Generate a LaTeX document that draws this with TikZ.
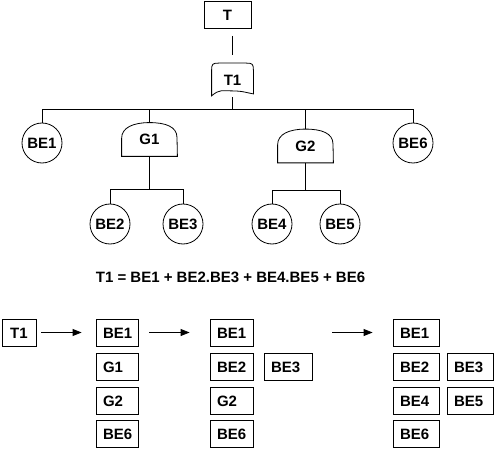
\documentclass[tikz,border=0pt]{standalone}
\usepackage{fontspec}
\setmainfont{Liberation Sans}
\usetikzlibrary{arrows.meta,calc}
\tikzset{
  lbl/.style={font=\bfseries\fontsize{15}{17}\selectfont},
  be/.style={lbl, draw, circle, minimum size=40pt, inner sep=0pt},
  gate/.style={lbl, minimum width=55pt, minimum height=33pt, inner sep=0pt},
  cbox/.style={lbl, draw, minimum height=27pt, inner xsep=7pt, inner ysep=0pt,
               text width=#1, align=left, text height=11pt, text depth=0pt},
  tbox/.style={lbl, draw, minimum height=27pt, inner sep=0pt, minimum width=#1,
               text height=11pt, text depth=0pt},
  arr/.style={-{Triangle[length=9pt,width=7pt]}},
  every path/.style={line width=0.8pt}
}
\begin{document}
\begin{tikzpicture}[x=1pt,y=-1pt]
\useasboundingbox (0,0) rectangle (495,449);
% tree
\node[tbox=47pt] (T) at (227.5,15) {T};
\node[gate, minimum width=41pt, minimum height=33pt] (T1) at (232.5,80) {T1};
\draw ([yshift=-7pt]T1.north west) -- ($(T1.south west)+(0,-1)$)
  .. controls +(8,-7) and +(-10,0) .. ($(T1.south)+(0,-6)$)
  .. controls +(10,0) and +(-6,-1) .. ($(T1.south east)+(0,-3)$)
  -- ([yshift=-7pt]T1.north east)
  .. controls +(0,-6) and +(6,0) .. ([xshift=-7pt]T1.north east)
  -- ([xshift=7pt]T1.north west)
  .. controls +(-6,0) and +(0,-6) .. ([yshift=-7pt]T1.north west);
\draw[shorten <=7pt, shorten >=8pt] (T1.north |- T.south) -- (T1.north);

\coordinate (bar) at (0,109);
\coordinate (sub1) at (0,189);
\coordinate (sub2) at (0,190);

\node[be] (BE1) at (42,143) {BE1};
\node[be] (BE6) at (413,143) {BE6};
\node[gate] (G1) at (149.5,139.5) {G1};
\node[gate] (G2) at (305.5,146) {G2};
\node[be] (BE2) at (110,224) {BE2};
\node[be] (BE3) at (183,224) {BE3};
\node[be] (BE4) at (272,224) {BE4};
\node[be] (BE5) at (340,224) {BE5};

\foreach \g in {G1,G2}{
  \draw (\g.south west) -- ++(0,-18)
    .. controls +(0,-11) and +(-16,0) .. (\g.north)
    .. controls +(16,0) and +(0,-11) .. ++(27.5,15)
    -- (\g.south east) -- cycle;
}

\draw (T1.south) -- (T1.south |- bar);
\draw (BE1.north) -- (BE1.north |- bar) -- (BE6.north |- bar) -- (BE6.north);
\draw (G1.north) -- (G1.north |- bar);
\draw (G2.north) -- (G2.north |- bar);
\draw (G1.south) -- (G1.south |- sub1);
\draw (BE2.north) -- (BE2.north |- sub1) -- (BE3.north |- sub1) -- (BE3.north);
\draw (G2.south) -- (G2.south |- sub2);
\draw (BE4.north) -- (BE4.north |- sub2) -- (BE5.north |- sub2) -- (BE5.north);

\node[lbl] (eq) at (230.5,277) {T1 = BE1 + BE2.BE3 + BE4.BE5 + BE6};

% bottom lists
\node[tbox=34pt] (L0) at (19,332.5) {T1};
\node[cbox=28pt] (A1) at (117,332.5) {BE1};
\node[cbox=28pt] (A2) at (117,366.5) {G1};
\node[cbox=28pt] (A3) at (117,400.5) {G2};
\node[cbox=28pt] (A4) at (117,434) {BE6};
\node[cbox=29pt] (B1) at (231.5,332.5) {BE1};
\node[cbox=29pt] (B2) at (231.5,366.5) {BE2};
\node[cbox=34pt] (B2b) at (288,366.5) {BE3};
\node[cbox=29pt] (B3) at (231.5,400.5) {G2};
\node[cbox=29pt] (B4) at (231.5,434) {BE6};
\node[cbox=32pt] (C1) at (416,332.5) {BE1};
\node[cbox=32pt] (C2) at (416,366.5) {BE2};
\node[cbox=32pt] (C2b) at (470,366.5) {BE3};
\node[cbox=32pt] (C3) at (416,400.5) {BE4};
\node[cbox=32pt] (C3b) at (470,400.5) {BE5};
\node[cbox=32pt] (C4) at (416,434) {BE6};

\draw[arr, shorten <=5pt, shorten >=14pt] (L0.east) -- (A1.west);
\draw[arr, shorten <=11pt, shorten >=20pt] (A1.east) -- (B1.west);
\draw[arr, shorten <=79pt, shorten >=20pt] (B1.east) -- (C1.west);
\end{tikzpicture}
\end{document}
